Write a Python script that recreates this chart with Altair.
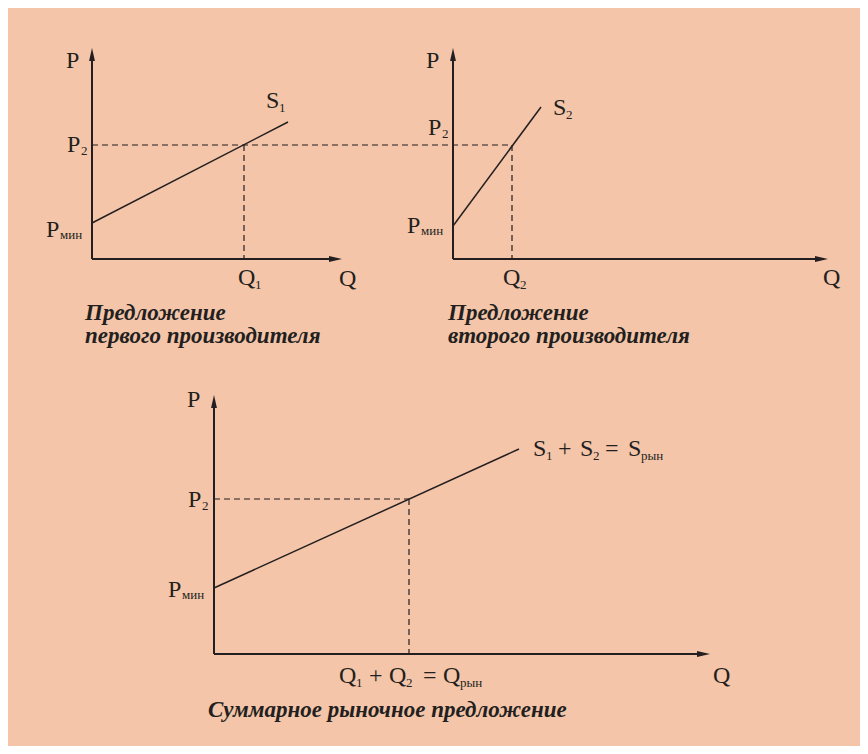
import altair as alt
import pandas as pd

BG = "#F4C5A8"
INK = "#231F20"
FONT = "Liberation Serif"

# ---- diagram coordinates (reference pixel space) ----
# solid axes: x1, y1, x2, y2
axis_x1 = [92, 92, 453, 453, 214, 214]
axis_y1 = [259, 259, 259, 259, 654, 654]
axis_x2 = [92, 335, 453, 820, 214, 703]
axis_y2 = [55, 259, 55, 259, 402, 654]

# arrow tips
arrow_up_x = [92, 453, 214]
arrow_up_y = [48, 48, 395]
arrow_right_x = [342, 828, 710]
arrow_right_y = [259, 259, 654]

# supply curves S1, S2, S1+S2
supply_x1 = [92, 453, 214]
supply_y1 = [223, 226, 588]
supply_x2 = [288, 541, 519]
supply_y2 = [122, 107, 449]

# dashed guide lines
dash_x1 = [92, 244, 512, 214, 409]
dash_y1 = [145, 145, 145, 499, 499]
dash_x2 = [512, 244, 512, 409, 409]
dash_y2 = [145, 259, 259, 499, 654]

# main-size labels
lab_text = ["P", "P", "P", "S", "Q", "Q",
            "P", "P", "P", "S", "Q", "Q",
            "P", "P", "P", "S", "+", "S", "=", "S",
            "Q", "+", "Q", "=", "Q", "Q"]
lab_x = [66, 67, 46, 266, 238, 339,
         426, 428, 407, 553, 503, 823,
         187, 188, 168, 533, 558, 580, 605, 628,
         339, 369, 389, 423, 443, 713]
lab_y = [68, 152, 237, 108, 285, 286,
         68, 135, 233, 115, 285, 285,
         407, 507, 597, 456, 456, 456, 456, 456,
         683, 683, 683, 683, 683, 683]

# subscripts
sub_text = ["2", "мин", "1", "1",
            "2", "мин", "2", "2",
            "2", "мин", "1", "2", "рын", "1", "2", "рын"]
sub_x = [81, 60, 279, 255,
         442, 421, 566, 520,
         202, 182, 546, 593, 641, 356, 406, 460]
sub_y = [155, 239, 112, 289,
         138, 235, 119, 289,
         510, 599, 460, 460, 460, 687, 687, 687]

# captions
cap_text = ["Предложение", "первого производителя",
            "Предложение", "второго производителя",
            "Суммарное рыночное предложение"]
cap_x = [85, 85, 448, 448, 208]
cap_y = [320, 343, 320, 343, 717]

# ---- tables ----
axes_df = pd.DataFrame({"x": axis_x1, "y": axis_y1, "x2": axis_x2, "y2": axis_y2})
supply_df = pd.DataFrame({"x": supply_x1, "y": supply_y1, "x2": supply_x2, "y2": supply_y2})
dash_df = pd.DataFrame({"x": dash_x1, "y": dash_y1, "x2": dash_x2, "y2": dash_y2})
up_df = pd.DataFrame({"x": arrow_up_x, "y": arrow_up_y})
right_df = pd.DataFrame({"x": arrow_right_x, "y": arrow_right_y})
lab_df = pd.DataFrame({"t": lab_text, "x": lab_x, "y": lab_y})
sub_df = pd.DataFrame({"t": sub_text, "x": sub_x, "y": sub_y})
cap_df = pd.DataFrame({"t": cap_text, "x": cap_x, "y": cap_y})

XS = alt.Scale(domain=[8, 860], nice=False, zero=False)
YS = alt.Scale(domain=[8, 746], nice=False, zero=False, reverse=True)


def X(f="x"):
    return alt.X(f"{f}:Q", scale=XS, axis=None)


def Y(f="y"):
    return alt.Y(f"{f}:Q", scale=YS, axis=None)


axes = alt.Chart(axes_df).mark_rule(color=INK, strokeWidth=2).encode(
    x=X(), y=Y(), x2="x2:Q", y2="y2:Q")
supply = alt.Chart(supply_df).mark_rule(color=INK, strokeWidth=1.5).encode(
    x=X(), y=Y(), x2="x2:Q", y2="y2:Q")
dashes = alt.Chart(dash_df).mark_rule(color=INK, strokeWidth=1.2, strokeDash=[6, 4]).encode(
    x=X(), y=Y(), x2="x2:Q", y2="y2:Q")

UP = "M0,-1L-0.45,1L0.45,1Z"
RIGHT = "M1,0L-1,-0.45L-1,0.45Z"
up = alt.Chart(up_df).transform_calculate(yc="datum.y + 6.5").mark_point(
    shape=UP, size=169, filled=True, color=INK, opacity=1, strokeWidth=0).encode(
    x=X(), y=Y("yc"))
right = alt.Chart(right_df).transform_calculate(xc="datum.x - 6.5").mark_point(
    shape=RIGHT, size=169, filled=True, color=INK, opacity=1, strokeWidth=0).encode(
    x=X("xc"), y=Y())

labels = alt.Chart(lab_df).mark_text(
    font=FONT, fontSize=24, color=INK, align="left", baseline="alphabetic").encode(
    x=X(), y=Y(), text="t:N")
subs = alt.Chart(sub_df).mark_text(
    font=FONT, fontSize=13, color=INK, align="left", baseline="alphabetic").encode(
    x=X(), y=Y(), text="t:N")
caps = alt.Chart(cap_df).mark_text(
    font=FONT, fontSize=23, fontStyle="italic", fontWeight="bold", color=INK,
    align="left", baseline="alphabetic").encode(
    x=X(), y=Y(), text="t:N")

chart = alt.layer(axes, supply, dashes, up, right, labels, subs, caps).properties(
    width=852, height=738, padding=0, autosize="none", background=BG
).configure_view(strokeWidth=0)

chart.save("out.html", embed_options={"renderer": "svg", "actions": False})
